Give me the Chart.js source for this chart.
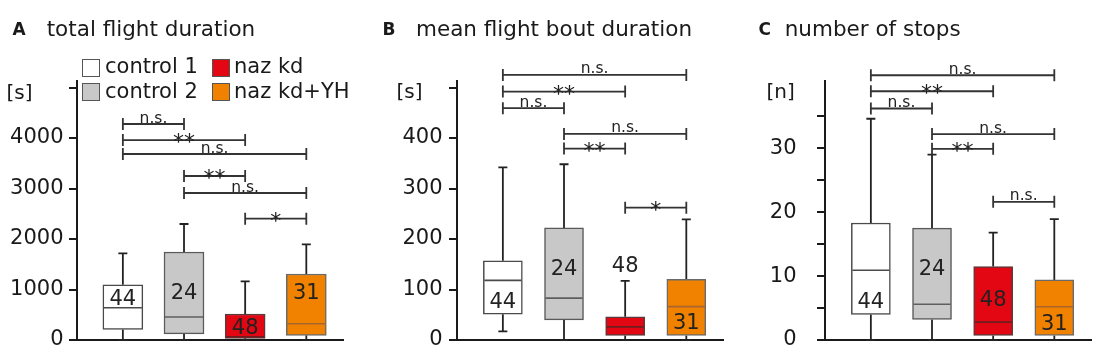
<!DOCTYPE html>
<html>
<head>
<meta charset="utf-8">
<script src="https://cdn.jsdelivr.net/npm/chart.js@4.4.0/dist/chart.umd.min.js"></script>
<style>
  body { margin: 0; width: 1100px; height: 362px; position: relative; overflow: hidden; background: #fff;
         font-family: "DejaVu Sans", sans-serif; color: #1a1a1a; }
  canvas { position: absolute; top: 0; }
  .t { position: absolute; line-height: 1; white-space: nowrap; }
  .letter { font-size: 17px; font-weight: bold; top: 20.6px; }
  .title { font-size: 21.5px; top: 18.3px; }
  .unit { font-size: 20px; }
  .leg { font-size: 21px; }
  .sw { position: absolute; width: 16px; height: 16px; border: 1px solid #555; }
</style>
</head>
<body>
<canvas id="panelA" width="352" height="362" style="left:0px"></canvas>
<canvas id="panelB" width="352" height="362" style="left:380px"></canvas>
<canvas id="panelC" width="352" height="362" style="left:748px"></canvas>

<div class="t letter" style="left:12.5px">A</div>
<div class="t title" style="left:46.7px">total flight duration</div>
<div class="t letter" style="left:382.5px">B</div>
<div class="t title" style="left:416px">mean flight bout duration</div>
<div class="t letter" style="left:758.4px">C</div>
<div class="t title" style="left:784.7px">number of stops</div>

<div class="t unit" style="left:6.5px; top:82px">[s]</div>
<div class="t unit" style="left:396.5px; top:80.5px">[s]</div>
<div class="t unit" style="left:766.5px; top:80.5px">[n]</div>

<div class="sw" style="left:82px; top:59px; background:#ffffff"></div>
<div class="t leg" style="left:105px; top:56.2px">control 1</div>
<div class="sw" style="left:82px; top:83px; background:#c8c8c8"></div>
<div class="t leg" style="left:105px; top:81.2px">control 2</div>
<div class="sw" style="left:212px; top:59px; background:#e30613"></div>
<div class="t leg" style="left:234px; top:56.2px">naz kd</div>
<div class="sw" style="left:212px; top:83px; background:#f08200"></div>
<div class="t leg" style="left:234px; top:81.2px">naz kd+YH</div>

<script>
const groups = ["control 1", "control 2", "naz kd", "naz kd+YH"];
const groupPos = [1, 2, 3, 4];
const groupN = [44, 24, 48, 31];

// A: total flight duration [s]
const durLow = [0, 0, 0, 0];
const durQ1 = [210, 120, 33, 93];
const durMedian = [640, 455, 65, 323];
const durQ3 = [1095, 1743, 515, 1307];
const durHigh = [1717, 2297, 1162, 1895];
const durTicks = [0, 1000, 2000, 3000, 4000, 5000];
const durTickLabels = ["0", "1000", "2000", "3000", "4000", ""];
const durNAt = [846, 974, 263, 974];
const durSig = [[1, 2, 4277, "n.s."], [1, 3, 3960, "**"], [1, 4, 3683, "n.s."],
                [2, 3, 3248, "**"], [2, 4, 2911, "n.s."], [3, 4, 2402, "*"]];

// B: mean flight bout duration [s]
const boutLow = [17, 0, 0, 0];
const boutQ1 = [51, 40, 9, 9];
const boutMedian = [118, 83, 26, 66];
const boutQ3 = [157, 222, 46, 120];
const boutHigh = [342, 348, 117, 239];
const boutTicks = [0, 100, 200, 300, 400, 500];
const boutTickLabels = ["0", "100", "200", "300", "400", ""];
const boutNAt = [79, 144, 149, 37];
const boutSig = [[1, 4, 525, "n.s."], [1, 3, 492, "**"], [1, 2, 459, "n.s."],
                 [2, 4, 408, "n.s."], [2, 3, 379, "**"], [3, 4, 262, "*"]];

// C: number of stops [n]
const stopLow = [0, 0, 0, 0];
const stopQ1 = [4.0, 3.2, 0.7, 0.7];
const stopMedian = [10.9, 5.6, 2.8, 5.2];
const stopQ3 = [18.3, 17.5, 11.5, 9.4];
const stopHigh = [34.6, 29.0, 16.8, 18.9];
const stopTicks = [0, 5, 10, 15, 20, 25, 30, 35];
const stopTickLabels = ["0", "", "10", "", "20", "", "30", ""];
const stopNAt = [6.2, 11.3, 6.5, 2.8];
const stopSig = [[1, 4, 41.4, "n.s."], [1, 3, 38.9, "**"], [1, 2, 36.2, "n.s."],
                 [2, 4, 32.2, "n.s."], [2, 3, 29.9, "**"], [3, 4, 21.6, "n.s."]];

const boxFill = ["#ffffff", "#c8c8c8", "#e30613", "#f08200"];
const boxEdge = ["#4a4a4a", "#5a5a5a", "#5a3a3a", "#6a6a6a"];
const medianColor = ["#4a4a4a", "#5e5e5e", "#6e1e1e", "#a8662e"];
const ink = "#1a1a1a";

Chart.defaults.font.family = "DejaVu Sans";

function drawPanel(canvasId, p) {
  const boxParts = {
    id: "boxParts",
    beforeDatasetsDraw(chart) {
      const { ctx, scales: { x, y } } = chart;
      ctx.save();
      ctx.strokeStyle = "#222";
      ctx.lineWidth = 1.8;
      groupPos.forEach((g, i) => {
        const cx = x.getPixelForValue(g);
        [[p.q3[i], p.high[i]], [p.q1[i], p.low[i]]].forEach(([from, to]) => {
          const y0 = y.getPixelForValue(from);
          const y1 = y.getPixelForValue(to);
          ctx.beginPath();
          ctx.moveTo(cx, y0);
          ctx.lineTo(cx, y1);
          ctx.moveTo(cx - 4.5, y1);
          ctx.lineTo(cx + 4.5, y1);
          ctx.stroke();
        });
      });
      ctx.restore();
    },
    afterDatasetsDraw(chart) {
      const { ctx, scales: { x, y } } = chart;
      const half = p.barWidth / 2;
      ctx.save();
      groupPos.forEach((g, i) => {
        const cx = x.getPixelForValue(g);
        const my = y.getPixelForValue(p.median[i]);
        ctx.strokeStyle = medianColor[i];
        ctx.lineWidth = 1.6;
        ctx.beginPath();
        ctx.moveTo(cx - half + 1, my);
        ctx.lineTo(cx + half - 1, my);
        ctx.stroke();

        ctx.fillStyle = "#222";
        ctx.font = "21px 'DejaVu Sans'";
        ctx.textAlign = "center";
        ctx.textBaseline = "alphabetic";
        ctx.fillText(String(groupN[i]), cx, y.getPixelForValue(p.nAt[i]) + 7.7);
      });
      ctx.restore();
    },
    afterDraw(chart) {
      const { ctx, scales: { x, y } } = chart;
      ctx.save();
      ctx.strokeStyle = "#333";
      ctx.fillStyle = "#222";
      ctx.lineWidth = 1.8;
      ctx.textAlign = "center";
      ctx.textBaseline = "alphabetic";
      p.sig.forEach(([a, b, v, label]) => {
        const x0 = x.getPixelForValue(a);
        const x1 = x.getPixelForValue(b);
        const yy = y.getPixelForValue(v);
        ctx.beginPath();
        ctx.moveTo(x0, yy); ctx.lineTo(x1, yy);
        ctx.moveTo(x0, yy - 6); ctx.lineTo(x0, yy + 6);
        ctx.moveTo(x1, yy - 6); ctx.lineTo(x1, yy + 6);
        ctx.stroke();
        const mid = (x0 + x1) / 2;
        if (label === "n.s.") {
          ctx.font = "15.5px 'DejaVu Sans'";
          ctx.fillText(label, mid, yy - 1.5);
        } else {
          ctx.font = "22px 'DejaVu Sans'";
          ctx.fillText(label, mid, yy + 9);
        }
      });
      ctx.restore();
    }
  };

  new Chart(document.getElementById(canvasId), {
    type: "bar",
    data: {
      datasets: [{
        data: groupPos.map((g, i) => ({ x: g, y: [p.q1[i], p.q3[i]] })),
        backgroundColor: boxFill,
        borderColor: boxEdge,
        borderWidth: 1.5,
        borderSkipped: false,
        barThickness: p.barWidth
      }]
    },
    options: {
      responsive: false,
      animation: false,
      layout: { padding: { top: 81, right: 9, left: 0, bottom: 0 } },
      plugins: { legend: { display: false }, tooltip: { enabled: false } },
      scales: {
        x: {
          type: "linear",
          min: 0.25,
          max: 4.6,
          offset: false,
          grid: { display: false },
          ticks: { display: false },
          border: { color: ink, width: 2 },
          afterFit: (s) => { s.height = 22; s.paddingLeft = 0; s.paddingRight = 0; }
        },
        y: {
          min: 0,
          max: p.max,
          afterBuildTicks: (s) => { s.ticks = p.ticks.map((v) => ({ value: v })); },
          grid: { drawOnChartArea: false, color: ink, lineWidth: 2, tickLength: 8 },
          border: { color: ink, width: 2 },
          ticks: {
            color: ink,
            font: { size: 21 },
            padding: p.tickPad,
            callback: (v) => p.tickLabels[p.ticks.indexOf(v)]
          },
          afterFit: (s) => { s.width = 77; s.paddingTop = 0; s.paddingBottom = 0; }
        }
      }
    },
    plugins: [boxParts]
  });
}

drawPanel("panelA", {
  low: durLow, q1: durQ1, median: durMedian, q3: durQ3, high: durHigh,
  ticks: durTicks, tickLabels: durTickLabels, max: 5129, nAt: durNAt, sig: durSig,
  barWidth: 40, tickPad: 5.5
});
drawPanel("panelB", {
  low: boutLow, q1: boutQ1, median: boutMedian, q3: boutQ3, high: boutHigh,
  ticks: boutTicks, tickLabels: boutTickLabels, max: 512.9, nAt: boutNAt, sig: boutSig,
  barWidth: 39, tickPad: 6.5
});
drawPanel("panelC", {
  low: stopLow, q1: stopQ1, median: stopMedian, q3: stopQ3, high: stopHigh,
  ticks: stopTicks, tickLabels: stopTickLabels, max: 40.5, nAt: stopNAt, sig: stopSig,
  barWidth: 39, tickPad: 20.5
});
</script>
</body>
</html>
